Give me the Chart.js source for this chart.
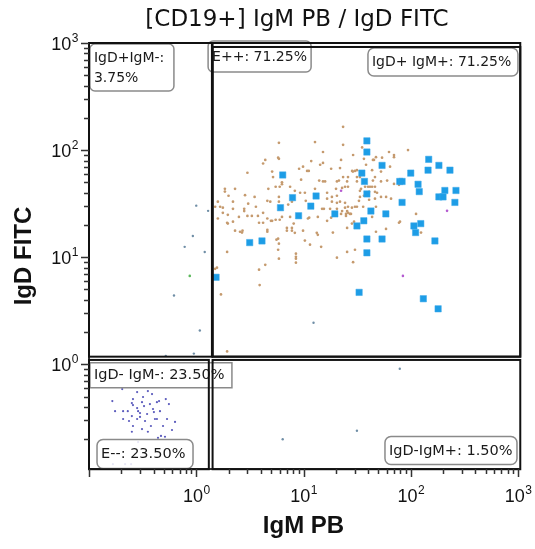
<!DOCTYPE html>
<html>
<head>
<meta charset="utf-8">
<script src="https://cdn.jsdelivr.net/npm/chart.js@4.4.1/dist/chart.umd.min.js"></script>
<style>
  html, body { margin: 0; padding: 0; background: #fff; }
</style>
</head>
<body>
<canvas id="plot" width="535" height="549"></canvas>
<script>
// IgM PB (x) vs IgD FITC (y)
const blueX = [39, 39, 54, 147, 183, 145, 232, 100, 35, 37, 79, 83, 117, 39, 120, 208, 264, 183, 200, 258, 83, 42.5, 58.6, 36.5, 31.5, 107, 124, 111, 39, 54, 168, 39, 33, 131, 180, 6.4, 7.9, 6.1, 13.1, 11.7, 9.0, 19.6, 3.15, 4.1, 1.53];
const blueY = [122, 96, 72, 82, 72, 65, 65, 61, 61, 51, 51, 51, 48, 39, 41, 42, 42, 36.6, 36.6, 32.5, 32.5, 27, 25.4, 21.9, 19.6, 19.6, 20.6, 17, 14.8, 14.8, 14.2, 11, 4.7, 4.1, 3.3, 58.6, 36, 29, 37.3, 30, 24.4, 25.4, 13.7, 14.2, 6.5];

const tanX = [23.4, 5.9, 12.8, 23.4, 15.2, 29, 45.4, 4.4, 4.2, 5.9, 22.4, 11.8, 15.2, 14.3, 9.9, 9.1, 3.0, 5.1, 10.8, 11.2,
  18.1, 28.4, 30.2, 21.9, 43.6, 5.2, 6.3, 6.3, 9.5, 14, 15.2, 15.9, 20.5, 21.4, 31.5, 33.6, 31.5, 38.3, 1.85, 1.85,
  2.3, 2.85, 3.5, 4.7, 5.5, 6.0, 7.5, 8.3, 9.3, 10.3, 12.8, 16.6, 20.1, 24.4, 34.4, 33.6, 41.7, 46.4, 48.5, 1.59,
  1.77, 2.0, 2.2, 2.2, 2.8, 2.8, 3.05, 3.6, 4.6, 4.9, 5.9, 5.9, 7.2, 7.8, 10.5, 16.6, 18.4, 18.4, 20.5, 20.5,
  14.9, 15.5, 17.7, 20.5, 22.9, 24.4, 30.2, 27.7, 24.9, 1.59, 1.97, 2.2, 2.5, 3.0, 3.3, 3.76, 4.2, 4.6, 4.97, 5.5,
  6.3, 7.5, 11, 11.3, 13.6, 16.6, 18.1, 24.9, 3.85, 4.2, 5.1, 6.0, 4.6, 4.6, 2.3, 2.67, 7.0, 7.0, 7.8, 7.8,
  8.1, 8.3, 9.9, 13.3, 13.6, 18.8, 25.5, 28.3, 5.6, 10.3, 11.5, 14.6, 1.94, 5.8, 8.5, 8.5, 8.5, 5.9, 4.4, 20.5,
  25.5, 29, 1.56, 3.85, 5.8, 1.5, 1.67, 1.77, 1.97, 1.94, 2.56, 2.7, 1.5, 3.9, 1.7, 1.94, 5.8, 5.9, 8.5, 35.2,
  62.7, 69.8, 69.8, 94.3, 47.4, 44.4, 36.6, 54, 64.1, 52.8, 28.9, 31.5, 23.4, 26, 25.5, 46.4, 44.4, 52.8, 60.2, 77.7,
  69.8, 22.9, 26, 37.5, 40, 43.6, 40.9, 46.4, 36.6, 33.6, 32.9, 46.4, 52.8, 58.9, 65.5, 40.9, 21.9, 24.4, 26, 31.5,
  28.3, 36, 47.4, 25.5, 26, 27.1, 22.4, 43.6, 112, 77.7, 79.4, 29.6, 47.4, 58.8, 124.7, 30.2];
const tanY = [165, 117, 119, 112, 96, 90, 81, 81, 75, 83, 81, 79, 76, 73, 70, 67, 61.5, 63, 64, 64,
  67, 64, 64, 68, 65, 56, 50, 48, 53, 52, 51, 51, 51, 52, 56, 56, 51, 73, 43.5, 41,
  43.5, 38, 36.6, 43.5, 45.5, 45.5, 45.5, 41.7, 40, 40, 43.5, 40, 43.5, 45.5, 43.5, 41.7, 45.5, 45.5, 40, 33,
  29, 37.5, 33, 28.3, 28.3, 27, 31.6, 29.6, 33.6, 33, 36.6, 33, 31, 33, 33.6, 35.2, 36.6, 33, 37.5, 32.2,
  28.3, 28.3, 28.3, 28.3, 27, 29, 29.6, 25.4, 25.4, 23, 20.6, 21.5, 23.8, 24.3, 24.3, 24.3, 26, 23, 21.9, 22.4,
  23.8, 23.8, 23, 23.4, 23.8, 21.9, 23.4, 24.3, 21, 21, 21.9, 22.4, 18, 17.3, 17.7, 17, 18.8, 17.7, 18.8, 17.7,
  20.6, 16.9, 17.7, 16.9, 16.2, 17, 18.8, 20.6, 14.6, 14.3, 13.1, 12.5, 11.2, 11.75, 10.8, 10.1, 9.7, 9.7, 8.5, 9.9,
  11.2, 9.0, 8.0, 7.65, 85, 29.6, 29.6, 26, 24.9, 21, 17.3, 17.7, 7.8, 5.5, 4.5, 1.32, 14.9, 13.4, 8.9, 106,
  96, 90, 86, 100, 86, 81, 83, 85, 70, 63, 63, 65, 56, 56, 51, 56, 52, 51, 52, 47.4,
  48.4, 44.4, 45.5, 45.5, 45.5, 45.5, 40.8, 40.8, 37.5, 36.6, 33.6, 35.2, 36.6, 36.6, 35.2, 34.4, 33, 32.2, 29.6, 29.6,
  29, 29.6, 29.6, 27, 26, 25.4, 25.4, 23.8, 25.4, 21, 21.5, 21.5, 17.3, 18.4, 17, 11.75];

const navyX = [0.204, 0.165, 0.281, 0.354, 0.387, 0.319, 0.257, 0.45, 0.43, 0.52, 0.556, 0.251, 0.257, 0.312, 0.37, 0.326, 0.281,
  0.175, 0.208, 0.23, 0.287, 0.299, 0.395, 0.403, 0.459, 0.251, 0.348, 0.208, 0.236, 0.281, 0.299, 0.333, 0.412, 0.43,
  0.534, 0.634, 0.378, 0.257, 0.49, 0.312, 0.251, 0.594, 0.469, 0.511, 0.354, 0.44, 0.167, 0.287, 0.217, 0.247];
const navyY = [0.588, 0.454, 0.551, 0.563, 0.528, 0.496, 0.474, 0.454, 0.444, 0.474, 0.426, 0.435, 0.417, 0.444, 0.426, 0.408, 0.391,
  0.366, 0.366, 0.366, 0.366, 0.351, 0.383, 0.359, 0.366, 0.329, 0.344, 0.309, 0.296, 0.309, 0.323, 0.296, 0.309, 0.309,
  0.309, 0.29, 0.266, 0.266, 0.266, 0.249, 0.235, 0.244, 0.215, 0.211, 0.235, 0.206, 0.117, 0.188, 0.117, 0.117];

const grayX = [1.0, 1.29, 0.93, 0.78, 1.2, 1.08, 0.95, 0.52, 0.62, 31.5, 6.4, 12.4, 79];
const grayY = [30.3, 27.1, 15.8, 12.5, 11.2, 2.07, 1.26, 1.2, 4.4, 0.24, 0.2, 2.45, 0.91];

const purpleX = [22.4, 218, 84.5];
const purpleY = [41.7, 27.1, 6.7];
const greenX = [0.87];
const greenY = [6.7];

const decades = [0, 1, 2, 3];

const X_MIN = 0.1, X_MAX = 1000, Y_MIN = 0.1055, Y_MAX = 1000;

// gate rectangles, data units
const gates = [
  { x0: 0.1, x1: 1.40, y0: 1.18, y1: 1000 },
  { x0: 1.42, x1: 1050, y0: 1.18, y1: 1000 },
  { x0: 1.42, x1: 1050, y0: 1.18, y1: 918 },
  { x0: 0.1, x1: 1.31, y0: 0.105, y1: 1.10 },
  { x0: 1.42, x1: 1050, y0: 0.105, y1: 1.10 }
];

// label boxes: top-left corner in data units, size in px
const gateLabels = [
  { lines: ['IgD+IgM-:', '3.75%'], x: 0.102, y: 979, w: 84, h: 47, r: 5, size: 14 },
  { lines: ['E++: 71.25%'], x: 1.29, y: 1044, w: 103, h: 31, r: 5, size: 14 },
  { lines: ['IgD+ IgM+: 71.25%'], x: 39.9, y: 898, w: 150, h: 28, r: 6, size: 14 },
  { lines: ['IgD- IgM-: 23.50%'], x: 0.102, y: 1.038, w: 142, h: 25, r: 0, size: 14.5 },
  { lines: ['E--: 23.50%'], x: 0.1188, y: 0.1987, w: 96, h: 29, r: 6, size: 14.5 },
  { lines: ['IgD-IgM+: 1.50%'], x: 57.5, y: 0.212, w: 132, h: 28, r: 6, size: 14.5 }
];

function toPoints(xs, ys) {
  return xs.map((v, i) => ({ x: v, y: ys[i] }));
}

const overlay = {
  id: 'overlay',
  afterDatasetsDraw(chart) {
    const { ctx, scales: { x, y } } = chart;
    ctx.save();
    // labels first, gate lines go over them
    gateLabels.forEach(l => {
      const left = x.getPixelForValue(l.x);
      const top = y.getPixelForValue(l.y);
      ctx.beginPath();
      ctx.roundRect(left, top, l.w, l.h, l.r);
      ctx.fillStyle = 'rgba(255,255,255,0.85)';
      ctx.fill();
      ctx.lineWidth = 1.5;
      ctx.strokeStyle = '#8a8a8a';
      ctx.stroke();
      ctx.fillStyle = '#1a1a1a';
      ctx.font = l.size + 'px "DejaVu Sans"';
      ctx.textBaseline = 'middle';
      ctx.textAlign = 'left';
      if (l.lines.length === 1) {
        ctx.fillText(l.lines[0], left + 4, top + l.h / 2 + 0.5);
      } else {
        l.lines.forEach((t, i) => ctx.fillText(t, left + 4, top + 14 + i * 20));
      }
    });
    ctx.strokeStyle = '#111';
    ctx.lineWidth = 2;
    gates.forEach(g => {
      const x0 = x.getPixelForValue(g.x0), x1 = x.getPixelForValue(g.x1);
      const y0 = y.getPixelForValue(g.y0), y1 = y.getPixelForValue(g.y1);
      ctx.strokeRect(x0, y1, x1 - x0, y0 - y1);
    });
    ctx.restore();
  },
  afterDraw(chart) {
    const { ctx, scales: { x, y }, chartArea: a } = chart;
    ctx.save();
    ctx.strokeStyle = '#333';
    ctx.lineWidth = 1.5;
    ctx.beginPath();
    for (let e = -1; e <= 3; e++) {
      for (let m = 1; m <= 9; m++) {
        const v = m * Math.pow(10, e);
        const len = m === 1 ? 8 : 5;
        if (v >= X_MIN && v <= X_MAX) {
          const px = Math.round(x.getPixelForValue(v)) + 0.5;
          ctx.moveTo(px, a.bottom);
          ctx.lineTo(px, a.bottom + len);
        }
        if (v >= Y_MIN && v <= Y_MAX) {
          const py = Math.round(y.getPixelForValue(v)) + 0.5;
          ctx.moveTo(a.left - len, py);
          ctx.lineTo(a.left, py);
        }
      }
    }
    ctx.stroke();

    // decade labels with superscript exponents
    ctx.fillStyle = '#111';
    ctx.textBaseline = 'alphabetic';
    ctx.textAlign = 'left';
    const base = '18px "Liberation Sans"', sup = '12px "Liberation Sans"';
    decades.forEach(e => {
      ctx.font = base;
      const w10 = ctx.measureText('10').width;
      ctx.font = sup;
      const we = ctx.measureText(String(e)).width;
      // x axis
      const px = x.getPixelForValue(Math.pow(10, e));
      const sx = px - (w10 + we) / 2;
      ctx.font = base;
      ctx.fillText('10', sx, 502);
      ctx.font = sup;
      ctx.fillText(String(e), sx + w10 + 0.5, 494);
      // y axis
      const py = y.getPixelForValue(Math.pow(10, e));
      const rx = 78 - we - w10;
      ctx.font = base;
      ctx.fillText('10', rx, py + 7);
      ctx.font = sup;
      ctx.fillText(String(e), rx + w10 + 0.5, py - 1);
    });

    // chart title
    ctx.font = '23px "DejaVu Sans"';
    ctx.textAlign = 'center';
    ctx.textBaseline = 'middle';
    ctx.fillStyle = '#111';
    ctx.fillText('[CD19+] IgM PB / IgD FITC', 297, 20);
    ctx.restore();
  }
};

const ctx = document.getElementById('plot');

new Chart(ctx, {
  type: 'scatter',
  data: {
    datasets: [
      { label: 'blue', data: toPoints(blueX, blueY), pointStyle: 'rect', pointRadius: 4.5,
        backgroundColor: '#1d9de6', borderColor: 'rgba(60,170,235,0.5)', borderWidth: 1 },
      { label: 'purple', data: toPoints(purpleX, purpleY), pointRadius: 1.3, backgroundColor: '#b45ad0', borderWidth: 0 },
      { label: 'green', data: toPoints(greenX, greenY), pointRadius: 1.3, backgroundColor: '#5cb85c', borderWidth: 0 },
      { label: 'gray', data: toPoints(grayX, grayY), pointRadius: 1.2, backgroundColor: '#6f8ea6', borderWidth: 0 },
      { label: 'navy', data: toPoints(navyX, navyY), pointRadius: 1.1, backgroundColor: '#5a5abc', borderWidth: 0 },
      { label: 'tan', data: toPoints(tanX, tanY), pointRadius: 1.35, backgroundColor: '#c59a6e', borderWidth: 0 }
    ]
  },
  options: {
    responsive: false,
    animation: false,
    events: [],
    layout: { padding: { top: 43, right: 17, bottom: 0, left: 0 } },
    plugins: {
      legend: { display: false },
      tooltip: { enabled: false },
      title: { display: false }
    },
    scales: {
      x: {
        type: 'logarithmic',
        min: X_MIN,
        max: X_MAX,
        grid: { display: false },
        ticks: { display: false },
        border: { color: '#333', width: 2 },
        title: {
          display: true,
          text: 'IgM PB',
          color: '#111',
          font: { family: 'Liberation Sans', size: 24, weight: 'bold' },
          padding: { top: 0, bottom: 8 }
        },
        afterFit: s => { s.height = 80; }
      },
      y: {
        type: 'logarithmic',
        min: Y_MIN,
        max: Y_MAX,
        grid: { display: false },
        ticks: { display: false },
        border: { color: '#333', width: 2 },
        title: {
          display: true,
          text: 'IgD FITC',
          color: '#111',
          font: { family: 'Liberation Sans', size: 24, weight: 'bold' },
          padding: { top: 10, bottom: 0 }
        },
        afterFit: s => { s.width = 89; }
      }
    }
  },
  plugins: [overlay]
});
</script>
</body>
</html>
